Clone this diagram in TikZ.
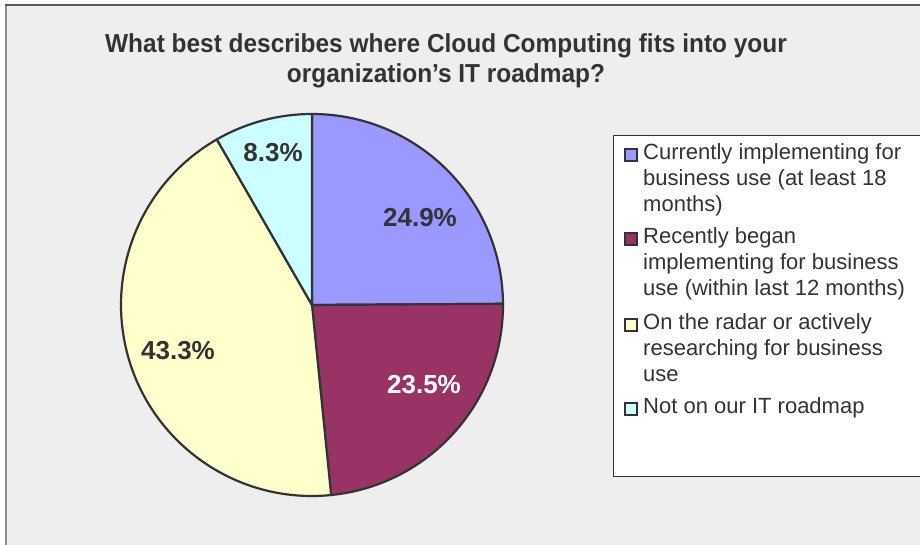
\documentclass[tikz,border=0pt]{standalone}
\usepackage{fontspec}
\setmainfont{Liberation Sans}
\newfontfamily\titlefont[FakeStretch=0.94]{Liberation Sans Bold}
\usepackage{tikz}
\usetikzlibrary{positioning}
\usetikzlibrary{calc}
\definecolor{panelgray}{HTML}{EEEEEE}
\definecolor{inkgray}{HTML}{333333}
\definecolor{sliceblue}{HTML}{9999FF}
\definecolor{slicered}{HTML}{993366}
\definecolor{sliceyellow}{HTML}{FFFFCC}
\definecolor{slicecyan}{HTML}{CCFFFF}
\tikzstyle{slice}=[draw=inkgray,line width=2.2pt,line join=round]
\tikzstyle{pct}=[font=\fontsize{26}{30}\selectfont\bfseries,text=inkgray,inner sep=0pt]
\tikzstyle{keybox}=[draw=inkgray,line width=1.8pt,minimum size=12pt,inner sep=0pt]
\tikzstyle{keytext}=[font=\fontsize{22}{26}\selectfont,text=inkgray,align=left,inner sep=0pt,anchor=north west]

\begin{document}
\begin{tikzpicture}[x=1pt,y=1pt]
    \useasboundingbox (0,0) rectangle (920,544);
    % chart area
    \fill[white] (0,0) rectangle (920,544);
    \fill[panelgray] (6,-5) rectangle (925,539);
    \draw[black!45,line width=2pt] (6,-5) -- (6,539);
    \draw[black!65,line width=2pt] (5,539) -- (925,539);

    \node[font=\titlefont\fontsize{26}{30}\selectfont,text=inkgray,align=center,anchor=base] (title) at (446,461)
        {What best describes where Cloud Computing fits into your\\organization’s IT roadmap?};

    % pie
    \coordinate (ctr) at (312,239);
    \foreach \from/\to/\col in {90/0.36/sliceblue, 0.36/-84.24/slicered, -84.24/-240.12/sliceyellow, -240.12/-270/slicecyan}
        \filldraw[slice,fill=\col] (ctr) -- ++(\from:191pt) arc[start angle=\from, end angle=\to, radius=191pt] -- cycle;

    \foreach \pos/\name/\label in {{(420,326)/pA/24.9\%}, {(178,193)/pC/43.3\%}, {(273,391)/pD/8.3\%}}
        \node[pct] (\name) at \pos {\label};
    \node[pct,text=white] (pB) at (424,159) {23.5\%};

    % legend
    \draw[inkgray,fill=white,line width=1pt] (613,68) rectangle (925,408);
    \foreach \y/\name/\col/\label in {
        {389/kA/sliceblue/\strut Currently implementing for\\business use (at least 18\\months)},
        {305/kB/slicered/\strut Recently began\\implementing for business\\use (within last 12 months)},
        {219/kC/sliceyellow/\strut On the radar or actively\\researching for business\\use},
        {135/kD/slicecyan/\strut Not on our IT roadmap}}
    {
        \node[keybox,fill=\col] (\name) at (631,\y) {};
        \node[keytext] (\name t) at (643,\y+14) {\label};
    }
\end{tikzpicture}
\end{document}
